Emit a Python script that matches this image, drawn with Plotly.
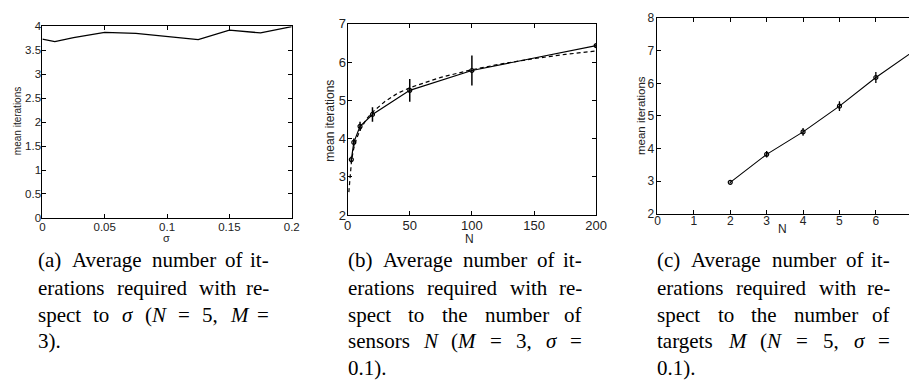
import plotly.graph_objects as go

# ---------------- data ----------------
sigma_vals = [0, 0.01, 0.025, 0.05, 0.075, 0.1, 0.125, 0.15, 0.175, 0.2]
iters_sigma = [3.73, 3.68, 3.76, 3.87, 3.85, 3.79, 3.72, 3.92, 3.86, 3.99]

sensors_N = [3, 5, 10, 20, 50, 100, 200]
iters_sensors = [3.45, 3.90, 4.32, 4.63, 5.26, 5.78, 6.43]
err_sensors = [0.08, 0.10, 0.12, 0.19, 0.30, 0.39, 0.05]

fit_N = [1, 2, 3, 4, 5, 7, 10, 15, 20, 30, 40, 50, 75, 100, 125, 150, 175, 200]
fit_iters = [2.60, 3.05, 3.36, 3.58, 3.75, 3.98, 4.22, 4.50, 4.69, 4.97, 5.18, 5.33,
             5.60, 5.80, 5.96, 6.09, 6.20, 6.29]

targets_M = [2, 3, 4, 5, 6, 7]
iters_targets = [2.96, 3.82, 4.51, 5.30, 6.18, 6.96]
err_targets = [0.03, 0.10, 0.12, 0.15, 0.17, 0.17]

ticks_a = [0, 0.05, 0.1, 0.15, 0.2]
ticklabels_a = ["0", "0.05", "0.1", "0.15", "0.2"]
yticks_a = [0, 0.5, 1, 1.5, 2, 2.5, 3, 3.5, 4]
yticklabels_a = ["0", "0.5", "1", "1.5", "2", "2.5", "3", "3.5", "4"]

captions = {
    "a": [["(a)", "Average", "number", "of", "it-"],
          ["erations", "required", "with", "re-"],
          ["spect", "to", "<i>σ</i>", "(<i>N</i>", "=", "5,", "<i>M</i>", "="],
          ["3)."]],
    "b": [["(b)", "Average", "number", "of", "it-"],
          ["erations", "required", "with", "re-"],
          ["spect", "to", "the", "number", "of"],
          ["sensors", "<i>N</i>", "(<i>M</i>", "=", "3,", "<i>σ</i>", "="],
          ["0.1)."]],
    "c": [["(c)", "Average", "number", "of", "it-"],
          ["erations", "required", "with", "re-"],
          ["spect", "to", "the", "number", "of"],
          ["targets", "<i>M</i>", "(<i>N</i>", "=", "5,", "<i>σ</i>", "="],
          ["0.1)."]],
}

W, H = 920, 385

def px(x):
    return x / W

def py(y):
    return 1 - y / H

fig = go.Figure()

# (a)
fig.add_trace(go.Scatter(x=sigma_vals, y=iters_sigma, mode="lines",
                         line=dict(color="black", width=1.3),
                         xaxis="x", yaxis="y", showlegend=False))
# (b)
fig.add_trace(go.Scatter(x=fit_N, y=fit_iters, mode="lines",
                         line=dict(color="black", width=1.2, dash="4px,3px"),
                         xaxis="x2", yaxis="y2", showlegend=False))
fig.add_trace(go.Scatter(x=sensors_N, y=iters_sensors, mode="lines+markers",
                         line=dict(color="black", width=1.2),
                         marker=dict(symbol="circle-open", size=4, color="black",
                                     line=dict(width=1.2, color="black")),
                         error_y=dict(type="data", array=err_sensors, width=0,
                                      thickness=1.5, color="black"),
                         xaxis="x2", yaxis="y2", showlegend=False))
# (c)
fig.add_trace(go.Scatter(x=targets_M, y=iters_targets, mode="lines+markers",
                         line=dict(color="black", width=1.1),
                         marker=dict(symbol="circle-open", size=4, color="black",
                                     line=dict(width=1.2, color="black")),
                         error_y=dict(type="data", array=err_targets, width=0,
                                      thickness=1.3, color="black"),
                         xaxis="x3", yaxis="y3", showlegend=False))

sans = "Liberation Sans, Arial"
axcommon = dict(showline=True, linecolor="black", linewidth=1, ticks="inside",
                ticklen=4, tickcolor="black", showgrid=False, zeroline=False)

def tf(size):
    return dict(size=size, family=sans, color="#222")

fig.update_layout(
    width=W, height=H, margin=dict(l=0, r=0, t=0, b=0),
    paper_bgcolor="white", plot_bgcolor="white",
    xaxis=dict(axcommon, domain=[px(39), px(292.5)], range=[0, 0.2],
               tickvals=ticks_a, ticktext=ticklabels_a, mirror="ticks",
               anchor="y", tickfont=tf(11.5), ticklabelstandoff=-2),
    yaxis=dict(axcommon, domain=[py(219.5), py(20)], range=[0, 4],
               tickvals=yticks_a, ticktext=yticklabels_a, mirror="ticks",
               anchor="x", tickfont=tf(11.5), ticklabelstandoff=-2),
    xaxis2=dict(axcommon, domain=[px(349.3), px(602)], range=[0, 200], dtick=50,
                mirror="ticks", anchor="y2", tickfont=tf(13), ticklabelstandoff=-2),
    yaxis2=dict(axcommon, domain=[py(216.5), py(17.5)], range=[2, 7], dtick=1,
                mirror="ticks", anchor="x2", tickfont=tf(13), ticklabelstandoff=-2),
    xaxis3=dict(axcommon, domain=[px(664.3), 1.0], range=[0, (920 - 664.3) / 37.0],
                dtick=1, mirror="ticks", anchor="y3", tickfont=tf(12),
                ticklabelstandoff=-4),
    yaxis3=dict(axcommon, domain=[py(215), py(11.7)], range=[2, 8], dtick=1,
                mirror=False, anchor="x3", tickfont=tf(12), ticklabelstandoff=0),
)

annots = []
def axis_title(text, x, y, size, angle=0):
    annots.append(dict(text=text, x=px(x), y=py(y), xref="paper", yref="paper",
                       showarrow=False, textangle=angle, xanchor="center",
                       yanchor="middle", borderpad=0,
                       font=dict(family=sans, size=size, color="#222")))

axis_title("mean iterations", 14, 119, 10, -90)
axis_title("σ", 165, 240, 11)
axis_title("mean iterations", 331.7, 118, 12, -90)
axis_title("N", 473.3, 241.5, 12)
axis_title("mean iterations", 647, 113, 11.5, -90)
axis_title("N", 791.7, 231, 12)

# ---- captions (justified, Times metrics) ----
REG = {" ": 250, "(": 333, ")": 333, ",": 250, "-": 333, ".": 250, "=": 564,
       "a": 444, "b": 500, "c": 444, "d": 500, "e": 444, "f": 333, "g": 500, "h": 500,
       "i": 278, "l": 278, "m": 778, "n": 500, "o": 500, "p": 500, "q": 500, "r": 333,
       "s": 389, "t": 278, "u": 500, "v": 500, "w": 722, "A": 722, "M": 889, "N": 722,
       "σ": 550}
ITA = {"N": 667, "M": 833, "σ": 540}
for d in "0123456789":
    REG[d] = 500

def word_width(tok, fs):
    w = 0
    ital = False
    i = 0
    while i < len(tok):
        if tok.startswith("<i>", i):
            ital = True; i += 3; continue
        if tok.startswith("</i>", i):
            ital = False; i += 4; continue
        ch = tok[i]
        w += (ITA.get(ch, REG.get(ch, 500)) if ital else REG.get(ch, 500))
        i += 1
    return w * fs / 1000.0

FS = 21
serif = "Liberation Serif, Times New Roman, serif"
baselines = [266, 294.5, 322.5, 350.5, 378.5]
shift = 6.5
cap_edges = {"a": (34, 270.5), "b": (348.3, 588.3), "c": (663.3, 901.7)}
for key, lines in captions.items():
    left, right = cap_edges[key]
    for li, words in enumerate(lines):
        yb = baselines[li] + 0.216 * FS + shift
        last = (li == len(lines) - 1)
        if last or len(words) == 1:
            annots.append(dict(text=" ".join(words), x=px(left), y=py(yb),
                               xref="paper", yref="paper", showarrow=False,
                               xanchor="left", yanchor="bottom", borderpad=0,
                               font=dict(family=serif, size=FS, color="black")))
            continue
        widths = [word_width(w, FS) for w in words]
        gap = (right - left - sum(widths)) / (len(words) - 1)
        x = left
        for wi, (w, ww) in enumerate(zip(words, widths)):
            if wi == len(words) - 1:
                ax, anc = right, "right"
            else:
                ax, anc = x, "left"
            annots.append(dict(text=w, x=px(ax), y=py(yb), xref="paper", yref="paper",
                               showarrow=False, xanchor=anc, yanchor="bottom",
                               borderpad=0,
                               font=dict(family=serif, size=FS, color="black")))
            x += ww + gap

fig.update_layout(annotations=annots)
fig.write_html("out.html")
